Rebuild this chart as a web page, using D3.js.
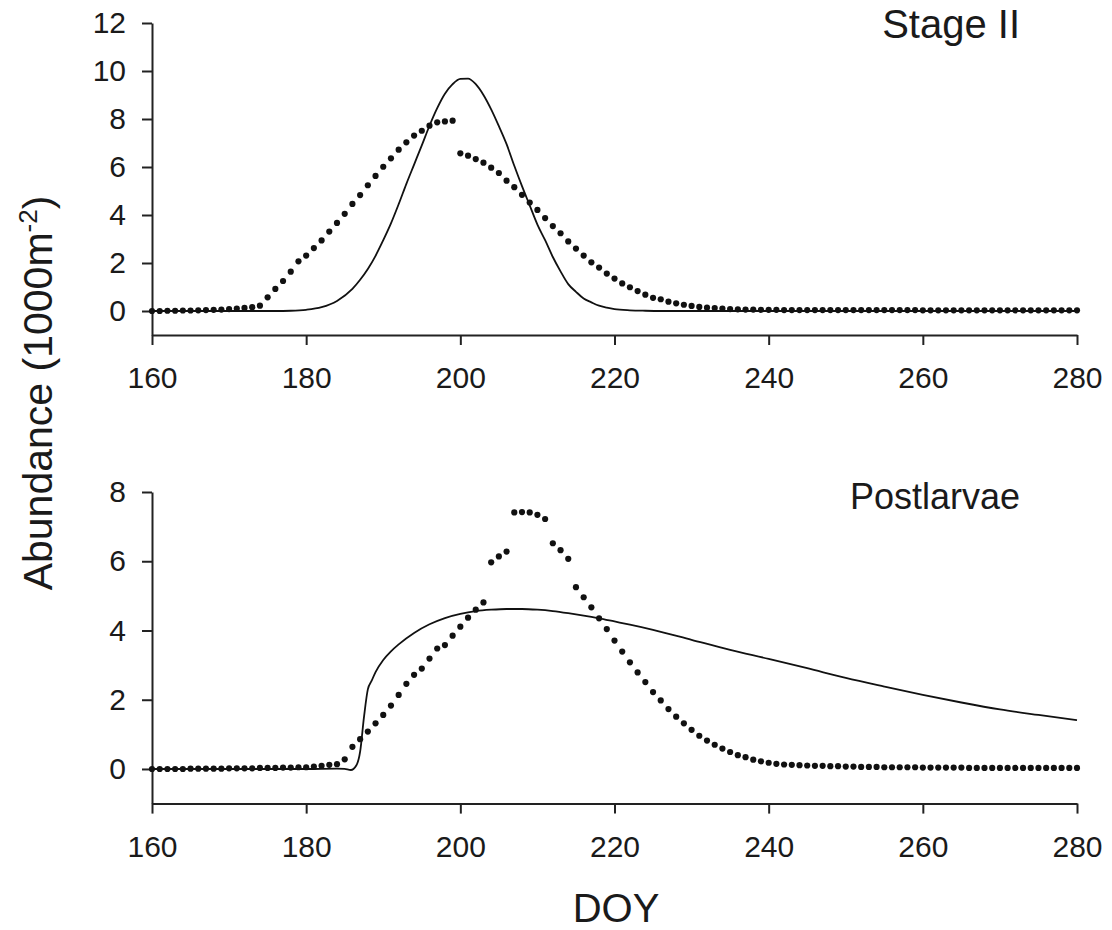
<!DOCTYPE html>
<html>
<head>
<meta charset="utf-8">
<script src="https://cdn.jsdelivr.net/npm/d3@7"></script>
<style>
  html, body { margin: 0; padding: 0; background: #fff; }
  svg { display: block; }
  text { font-family: "Liberation Sans", Arial, sans-serif; fill: #1a1a1a; }
</style>
</head>
<body>
<svg id="chart" width="1112" height="930"></svg>
<script>
// ---------- DATA ----------
const days = d3.range(160, 281); // DOY 160..280, one point per day
const xTicks = [160, 180, 200, 220, 240, 260, 280];
const stageIITicks = [0, 2, 4, 6, 8, 10, 12];
const postlarvaeTicks = [0, 2, 4, 6, 8];

// Stage II observed (dots), DOY 160..280
const stageIIObs = [
  0.00, 0.00, 0.01, 0.01, 0.02, 0.02, 0.03, 0.04, 0.05, 0.06,
  0.08, 0.10, 0.13, 0.16, 0.22, 0.57, 0.92, 1.25, 1.64, 2.07,
  2.31, 2.62, 2.94, 3.31, 3.67, 4.05, 4.46, 4.83, 5.24, 5.63,
  6.01, 6.36, 6.72, 7.03, 7.31, 7.51, 7.72, 7.86, 7.90, 7.93,
  6.57, 6.47, 6.33, 6.18, 5.97, 5.75, 5.43, 5.16, 4.84, 4.52,
  4.21, 3.87, 3.54, 3.24, 2.90, 2.60, 2.31, 2.03, 1.81, 1.56,
  1.35, 1.15, 0.99, 0.83, 0.68, 0.55, 0.49, 0.39, 0.32, 0.26,
  0.21, 0.17, 0.14, 0.12, 0.10, 0.08, 0.07, 0.06, 0.06, 0.05,
  0.05, 0.05, 0.04, 0.04, 0.04, 0.04, 0.04, 0.04, 0.04, 0.04,
  0.04, 0.04, 0.04, 0.04, 0.04, 0.04, 0.04, 0.04, 0.04, 0.04,
  0.03, 0.03, 0.03, 0.03, 0.03, 0.03, 0.03, 0.03, 0.03, 0.03,
  0.03, 0.03, 0.03, 0.03, 0.03, 0.03, 0.03, 0.03, 0.03, 0.03,
  0.03
];

// Stage II model (solid line)
const stageIIModelDays = [160, 170, 176, 178, 180, 182, 184, 186, 187, 188, 189, 190, 191, 192, 193, 194, 195, 196, 197, 198, 199, 200, 201, 202, 203, 204, 205, 206, 207, 208, 209, 210, 211, 212, 213, 214, 215, 216, 217, 218, 219, 220, 222, 224, 226, 240, 260, 280];
const stageIIModel =     [0,   0,   0,   0.01, 0.05, 0.16, 0.42, 0.92, 1.3, 1.75, 2.3, 2.95, 3.65, 4.45, 5.3, 6.1, 6.9, 7.72, 8.45, 9.05, 9.45, 9.67, 9.68, 9.45, 9.0, 8.4, 7.7, 6.95, 6.05, 5.2, 4.4, 3.6, 2.95, 2.25, 1.65, 1.12, 0.8, 0.52, 0.36, 0.22, 0.14, 0.08, 0.03, 0.01, 0, 0, 0, 0];

// Postlarvae observed (dots), DOY 160..280
const postObs = [
  0.00, 0.00, 0.00, 0.00, 0.00, 0.01, 0.01, 0.01, 0.01, 0.01,
  0.02, 0.02, 0.02, 0.02, 0.03, 0.03, 0.03, 0.04, 0.04, 0.05,
  0.05, 0.07, 0.09, 0.12, 0.14, 0.28, 0.64, 0.86, 1.08, 1.32,
  1.56, 1.83, 2.14, 2.46, 2.72, 2.90, 3.19, 3.48, 3.58, 3.85,
  4.11, 4.37, 4.60, 4.81, 5.97, 6.14, 6.28, 7.41, 7.42, 7.41,
  7.34, 7.22, 6.52, 6.32, 6.07, 5.25, 4.96, 4.67, 4.35, 4.04,
  3.71, 3.39, 3.08, 2.79, 2.51, 2.22, 1.98, 1.73, 1.51, 1.32,
  1.13, 0.96, 0.82, 0.70, 0.59, 0.49, 0.40, 0.34, 0.27, 0.22,
  0.18, 0.15, 0.13, 0.12, 0.11, 0.10, 0.09, 0.09, 0.08, 0.08,
  0.07, 0.07, 0.06, 0.06, 0.06, 0.05, 0.05, 0.05, 0.05, 0.05,
  0.04, 0.04, 0.04, 0.04, 0.04, 0.04, 0.03, 0.03, 0.03, 0.03,
  0.03, 0.03, 0.03, 0.03, 0.03, 0.03, 0.03, 0.03, 0.03, 0.03,
  0.03
];

// Postlarvae model (solid line)
const postModelDays = [160, 170, 180, 184, 185, 185.8, 186.5, 187, 187.5, 188, 188.5, 189, 190, 191, 192, 194, 196, 198, 200, 202, 204, 206, 208, 210, 212, 214, 216, 218, 220, 222, 225, 230, 235, 240, 245, 250, 255, 260, 265, 270, 275, 280];
const postModel =     [0,   0,   0,   0.01, 0.0, -0.03, 0.1,  0.5, 1.5,   2.3, 2.55,  2.8, 3.15, 3.4, 3.6, 3.93, 4.18, 4.36, 4.48, 4.56, 4.6, 4.62, 4.62, 4.6, 4.56, 4.5, 4.43, 4.35, 4.26, 4.17, 4.02, 3.73, 3.44, 3.18, 2.91, 2.63, 2.38, 2.14, 1.92, 1.72, 1.56, 1.41];

// ---------- CHART ----------
const svg = d3.select("#chart");
const x = d3.scaleLinear().domain([160, 280]).range([152, 1077]);

function panel(yDomain, yRange, yTicks, obs, modelDays, model, title, titleY, titleSize) {
  const y = d3.scaleLinear().domain(yDomain).range(yRange);
  const g = svg.append("g");

  const xa = g.append("g")
    .attr("transform", `translate(0,${y(yDomain[0])})`)
    .call(d3.axisBottom(x).tickValues(xTicks).tickSize(10).tickSizeOuter(0).tickPadding(22).tickFormat(d3.format("d")));
  const ya = g.append("g")
    .attr("transform", `translate(${x(160)},0)`)
    .call(d3.axisLeft(y).tickValues(yTicks).tickSize(10).tickSizeOuter(0).tickPadding(16).tickFormat(d3.format("d")));

  [xa, ya].forEach(a => {
    a.select(".domain").attr("stroke", "#222").attr("stroke-width", 2);
    a.selectAll(".tick line").attr("stroke", "#222").attr("stroke-width", 2);
    a.selectAll(".tick text").attr("font-size", 30).attr("fill", "#1a1a1a")
      .style("font-family", '"Liberation Sans", Arial, sans-serif');
  });

  const line = d3.line().x(d => x(d[0])).y(d => y(d[1])).curve(d3.curveMonotoneX);
  g.append("path")
    .datum(modelDays.map((d, i) => [d, model[i]]))
    .attr("fill", "none").attr("stroke", "#111").attr("stroke-width", 1.8)
    .attr("d", line);

  g.append("g").selectAll("circle")
    .data(days.map((d, i) => [d, obs[i]]))
    .join("circle")
    .attr("cx", d => x(d[0])).attr("cy", d => y(d[1]))
    .attr("r", 3.1).attr("fill", "#111");

  g.append("text")
    .attr("x", 1020).attr("y", titleY)
    .attr("text-anchor", "end").attr("font-size", titleSize)
    .text(title);
}

panel([-1, 12], [335, 23], stageIITicks, stageIIObs, stageIIModelDays, stageIIModel, "Stage II", 38, 40);
panel([-1, 8], [803.6, 492], postlarvaeTicks, postObs, postModelDays, postModel, "Postlarvae", 509, 36);

// Axis titles
svg.append("text")
  .attr("x", 616).attr("y", 922)
  .attr("text-anchor", "middle").attr("font-size", 40)
  .text("DOY");

const yl = svg.append("text")
  .attr("transform", "translate(52,393) rotate(-90)")
  .attr("text-anchor", "middle").attr("font-size", 41);
yl.append("tspan").text("Abundance (1000m");
yl.append("tspan").attr("font-size", 26).attr("dy", -15).text("-2");
yl.append("tspan").attr("dy", 15).text(")");
</script>
</body>
</html>
